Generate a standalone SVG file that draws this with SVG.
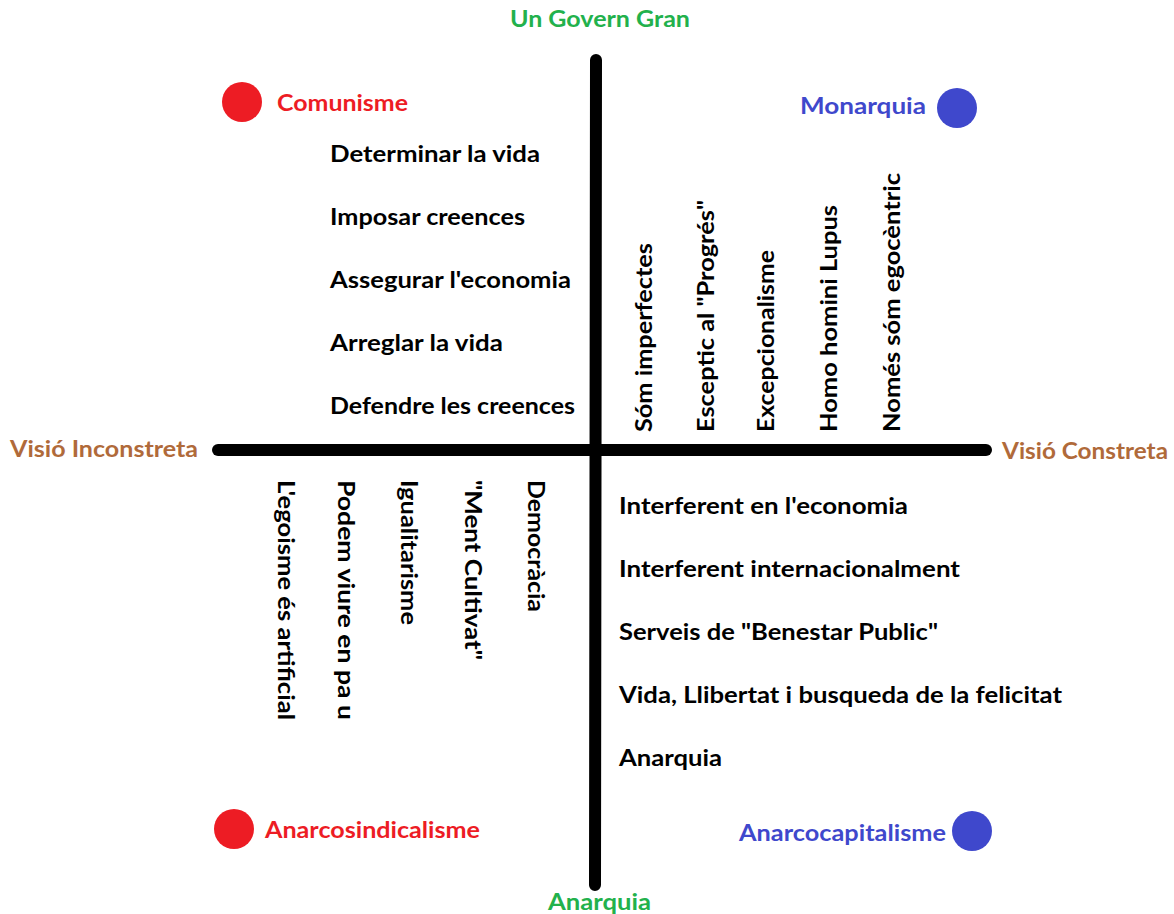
<svg xmlns="http://www.w3.org/2000/svg" width="1174" height="914" viewBox="0 0 1174 914">
<style>
text{font-family:Lato,"Open Sans","Liberation Sans",sans-serif;font-weight:bold;font-size:22px;fill:#000}
.g{fill:#22b14c}.r{fill:#ed1c24}.b{fill:#3f48cc}.br{fill:#b06a3a}
.ax{stroke:#000;stroke-width:12;stroke-linecap:round;fill:none}
</style>
<rect width="1174" height="914" fill="#fff"/>
<g id="connectors">
<line class="ax" x1="218" y1="450" x2="986" y2="450"/>
<line class="ax" x1="596" y1="60" x2="595" y2="885"/>
</g>
<g id="axis-labels">
<text class="g" x="510" y="27" textLength="180" lengthAdjust="spacingAndGlyphs">Un Govern Gran</text>
<text class="g" x="548" y="910" textLength="103" lengthAdjust="spacingAndGlyphs">Anarquia</text>
<text class="br" x="10" y="457" textLength="188" lengthAdjust="spacingAndGlyphs">Visió Inconstreta</text>
<text class="br" x="1002" y="459" textLength="166" lengthAdjust="spacingAndGlyphs">Visió Constreta</text>
</g>
<g id="comunisme"><circle class="r" cx="242" cy="102" r="20"/><text class="r" x="277" y="111" textLength="131" lengthAdjust="spacingAndGlyphs">Comunisme</text></g>
<g id="monarquia"><circle class="b" cx="957" cy="108" r="20"/><text class="b" x="800" y="114" textLength="126" lengthAdjust="spacingAndGlyphs">Monarquia</text></g>
<g id="anarcosindicalisme"><circle class="r" cx="234" cy="829" r="20"/><text class="r" x="265" y="838" textLength="215" lengthAdjust="spacingAndGlyphs">Anarcosindicalisme</text></g>
<g id="anarcocapitalisme"><circle class="b" cx="972" cy="831" r="20"/><text class="b" x="739" y="841" textLength="207" lengthAdjust="spacingAndGlyphs">Anarcocapitalisme</text></g>
<g id="top-left">
<text x="330" y="162" textLength="210" lengthAdjust="spacingAndGlyphs">Determinar la vida</text>
<text x="330" y="225" textLength="195" lengthAdjust="spacingAndGlyphs">Imposar creences</text>
<text x="330" y="288" textLength="241" lengthAdjust="spacingAndGlyphs">Assegurar l'economia</text>
<text x="330" y="351" textLength="173" lengthAdjust="spacingAndGlyphs">Arreglar la vida</text>
<text x="330" y="414" textLength="245" lengthAdjust="spacingAndGlyphs">Defendre les creences</text>
</g>
<g id="top-right">
<text transform="translate(652,432) rotate(-90)" textLength="189" lengthAdjust="spacingAndGlyphs">Sóm imperfectes</text>
<text transform="translate(714,432) rotate(-90)" textLength="232" lengthAdjust="spacingAndGlyphs">Esceptic al "Progrés"</text>
<text transform="translate(774,432) rotate(-90)" textLength="182" lengthAdjust="spacingAndGlyphs">Excepcionalisme</text>
<text transform="translate(837,432) rotate(-90)" textLength="227" lengthAdjust="spacingAndGlyphs">Homo homini Lupus</text>
<text transform="translate(900,432) rotate(-90)" textLength="259" lengthAdjust="spacingAndGlyphs">Només sóm egocèntric</text>
</g>
<g id="bottom-left">
<text transform="translate(278,480) rotate(90)" textLength="240" lengthAdjust="spacingAndGlyphs">L'egoisme és artificial</text>
<text transform="translate(338,480) rotate(90)" textLength="240" lengthAdjust="spacingAndGlyphs">Podem viure en pa u</text>
<text transform="translate(401,480) rotate(90)" textLength="145" lengthAdjust="spacingAndGlyphs">Igualitarisme</text>
<text transform="translate(465,480) rotate(90)" textLength="180" lengthAdjust="spacingAndGlyphs">"Ment Cultivat"</text>
<text transform="translate(528,480) rotate(90)" textLength="132" lengthAdjust="spacingAndGlyphs">Democràcia</text>
</g>
<g id="bottom-right">
<text x="619" y="514" textLength="289" lengthAdjust="spacingAndGlyphs">Interferent en l'economia</text>
<text x="619" y="577" textLength="341" lengthAdjust="spacingAndGlyphs">Interferent internacionalment</text>
<text x="619" y="640" textLength="319" lengthAdjust="spacingAndGlyphs">Serveis de "Benestar Public"</text>
<text x="619" y="703" textLength="443" lengthAdjust="spacingAndGlyphs">Vida, Llibertat i busqueda de la felicitat</text>
<text x="619" y="766" textLength="103" lengthAdjust="spacingAndGlyphs">Anarquia</text>
</g>
</svg>
